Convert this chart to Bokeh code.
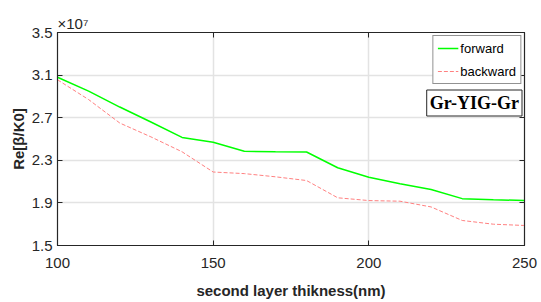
from bokeh.plotting import figure
from bokeh.models import Range1d, LinearAxis, FixedTicker, Label, Legend, LegendItem
from bokeh.embed import file_html
from bokeh.resources import INLINE

# data (values in units of 1e7)
thickness = [100, 110, 120, 130, 140, 150, 160, 170, 180, 190, 200, 210, 220, 230, 240, 250]
forward = [3.08, 2.95, 2.80, 2.66, 2.515, 2.47, 2.385, 2.38, 2.378, 2.23, 2.14, 2.08, 2.025, 1.94, 1.93, 1.922]
backward = [3.056, 2.87, 2.65, 2.52, 2.38, 2.19, 2.175, 2.145, 2.11, 1.948, 1.922, 1.916, 1.862, 1.735, 1.70, 1.688]
x_ticks = [100, 150, 200, 250]
y_ticks = [1.5, 1.9, 2.3, 2.7, 3.1, 3.5]
x_label = "second layer thikness(nm)"
y_label = "Re[β/K0]"
exponent_text = "×10⁷"
series_names = ["forward", "backward"]
box_text = "Gr-YIG-Gr"

FONT = "Liberation Sans"
DARK = "#262626"

p = figure(frame_width=467, frame_height=213, output_backend="svg", toolbar_location=None,
           x_range=Range1d(100, 250), y_range=Range1d(1.5, 3.5),
           min_border_left=57, min_border_right=17, min_border_top=32, min_border_bottom=57,
           title=exponent_text)
p.title.text_font = FONT
p.title.text_font_size = "15px"
p.title.text_font_style = "normal"
p.title.text_color = DARK
p.title.align = "left"
p.title.offset = 0
p.title.standoff = 2
p.background_fill_color = "white"
p.border_fill_color = "white"
p.outline_line_color = DARK
p.outline_line_width = 1.2

for ax in (p.xaxis[0], p.yaxis[0]):
    ax.major_tick_in = 5
    ax.major_tick_out = 0
    ax.minor_tick_line_color = None
    ax.axis_line_color = DARK
    ax.major_tick_line_color = DARK
    ax.major_label_text_font = FONT
    ax.major_label_text_font_size = "15px"
    ax.major_label_text_color = DARK
    ax.axis_label_text_font = FONT
    ax.axis_label_text_font_style = "bold"
    ax.axis_label_text_font_size = "15px"
    ax.axis_label_text_color = DARK

p.xaxis.ticker = FixedTicker(ticks=x_ticks)
p.yaxis.ticker = FixedTicker(ticks=y_ticks)
p.xaxis.axis_label = x_label
p.yaxis.axis_label = y_label
p.xaxis.major_label_standoff = 12
p.xaxis.axis_label_standoff = 11
p.yaxis.major_label_standoff = 5
p.yaxis.axis_label_standoff = 2

# box ticks on top and right (no labels)
top = LinearAxis(ticker=FixedTicker(ticks=x_ticks), major_label_overrides={t: "" for t in x_ticks},
                 major_label_text_color=None, major_label_standoff=0, major_label_text_font_size="1px",
                 major_tick_in=5, major_tick_out=0, minor_tick_line_color=None,
                 axis_line_color=DARK, major_tick_line_color=DARK)
right = LinearAxis(ticker=FixedTicker(ticks=y_ticks), major_label_overrides={t: "" for t in y_ticks},
                   major_label_text_color=None, major_label_standoff=0, major_label_text_font_size="1px",
                   major_tick_in=5, major_tick_out=0, minor_tick_line_color=None,
                   axis_line_color=DARK, major_tick_line_color=DARK)
p.add_layout(top, "above")
p.add_layout(right, "right")

p.xgrid.grid_line_color = "#e3e3e3"
p.ygrid.grid_line_color = "#e3e3e3"
p.xgrid.grid_line_width = 1.5
p.ygrid.grid_line_width = 1.5

r1 = p.line(thickness, forward, line_color="#00ff00", line_width=1.5)
r2 = p.line(thickness, backward, line_color="#ff8080", line_width=1, line_dash="4 2")

legend = Legend(items=[LegendItem(label=series_names[0], renderers=[r1]),
                       LegendItem(label=series_names[1], renderers=[r2])],
                location="top_right", margin=3, padding=4, spacing=7,
                glyph_width=21, glyph_height=16, label_standoff=2, label_height=16,
                label_text_font=FONT, label_text_font_size="13px", label_text_color="#000000",
                border_line_color=DARK, border_line_width=1, background_fill_color="white",
                background_fill_alpha=1.0)
p.add_layout(legend)

p.add_layout(Label(x=249.2, y=2.96, text=box_text, text_align="right", text_baseline="top",
                   text_font="Liberation Serif", text_font_style="bold", text_font_size="18px",
                   text_color="#000000", border_line_color=DARK, border_line_width=1,
                   background_fill_color="white", padding=3))

open("out.html", "w").write(file_html(p, INLINE))
